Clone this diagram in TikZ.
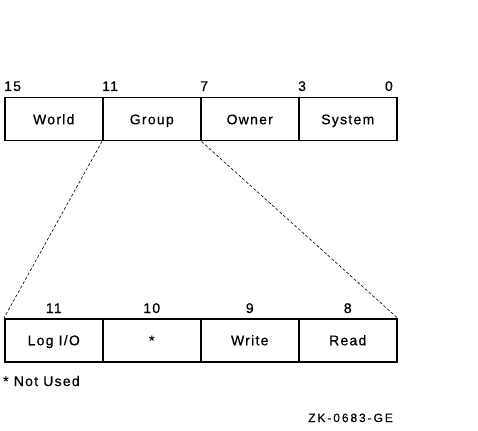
\documentclass[tikz,border=0pt]{standalone}
\usepackage{fontspec}
\setmainfont{Liberation Sans}[LetterSpace=9,FakeBold=0.6]
\newfontfamily\zkfont{Liberation Sans}[LetterSpace=16,FakeBold=0.4]
\begin{document}
\begin{tikzpicture}[x=1pt,y=-1pt,
  cell/.style={draw,line width=1.5pt,minimum width=98pt,minimum height=43pt,anchor=north west,inner sep=0pt,text height=12pt,text depth=2pt,font=\fontsize{14}{16}\selectfont},
  bitlbl/.style={font=\fontsize{14}{16}\selectfont,inner sep=0pt},
  conn/.style={densely dashed,line width=0.6pt}]
\useasboundingbox (0,0) rectangle (478,430);
% top register
\node[cell] (w) at (4,97) {World};
\node[cell] (g) at (102,97) {Group};
\node[cell] (o) at (200,97) {Owner};
\node[cell] (s) at (298,97) {System};
\node[bitlbl,anchor=base west] (t15) at (4,91) {15};
\node[bitlbl,anchor=base west] (t11) at (102,91) {11};
\node[bitlbl,anchor=base west] (t7) at (200,91) {7};
\node[bitlbl,anchor=base west] (t3) at (298,91) {3};
\node[bitlbl,anchor=base east] (t0) at (393,91) {0};
% bottom register
\node[cell] (l) at (4,318) {Log I/O};
\node[cell] (n) at (102,318) {*};
\node[cell] (wr) at (200,318) {Write};
\node[cell] (r) at (298,318) {Read};
\node[bitlbl,anchor=base] (b11) at (l.center |- 0,313) {11};
\node[bitlbl,anchor=base] (b10) at (n.center |- 0,313) {10};
\node[bitlbl,anchor=base] (b9) at (wr.center |- 0,313) {9};
\node[bitlbl,anchor=base] (b8) at (r.center |- 0,313) {8};
% expansion lines
\draw[conn] (g.south west) -- (l.north west);
\draw[conn] (g.south east) -- (r.north east);
\node[bitlbl,anchor=base west] (nu) at (3,386) {* Not Used};
\node[bitlbl,anchor=base west,font=\zkfont\fontsize{12}{14}\selectfont] (zk) at (308,422) {ZK-0683-GE};
\end{tikzpicture}
\end{document}
